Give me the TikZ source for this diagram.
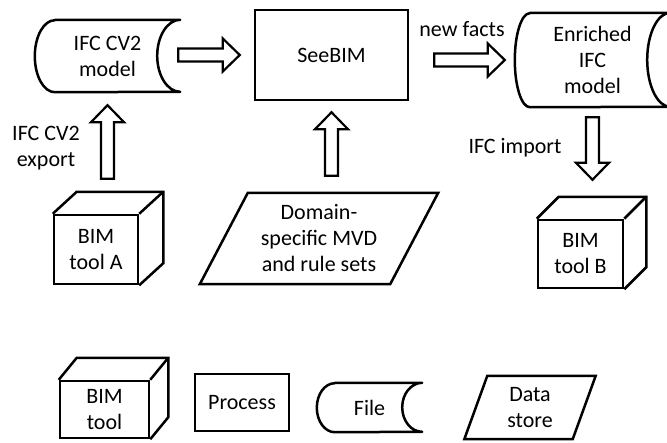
\documentclass[tikz,border=0pt]{standalone}
\usepackage{fontspec}
\setmainfont{Carlito}
\usetikzlibrary{calc}

\tikzset{
  outline/.style={line width=2.5pt, line join=round},
  txt/.style={font=\fontsize{22}{26}\selectfont, align=center, inner sep=0pt},
  box/.style={txt, draw, line width=2.5pt},
  fat/.style={line width=2.2pt, line join=miter, to path={
    let \p1=(\tikztostart), \p2=(\tikztotarget), \p3=($(\p2)!17pt!(\p1)$) in
    ($(\p1)!6.5pt!90:(\p2)$) -- ($(\p3)!6.5pt!90:(\p2)$) -- ($(\p3)!16.5pt!90:(\p2)$)
    -- (\p2)
    -- ($(\p3)!16.5pt!-90:(\p2)$) -- ($(\p3)!6.5pt!-90:(\p2)$) -- ($(\p1)!6.5pt!-90:(\p2)$) -- cycle}}
}

% file: node, bulge, dent, half height
\newcommand{\fileshape}[4]{
  \draw[outline] ($(#1.north west)+(#2,0)$) -- (#1.north east)
    arc[start angle=90, end angle=270, x radius=#3pt, y radius=#4pt]
    -- ($(#1.south west)+(#2,0)$)
    arc[start angle=270, end angle=90, x radius=#2pt, y radius=#4pt] -- cycle;}
% cube: node, dx, dy
\newcommand{\cubeshape}[3]{
  \draw[outline, line join=miter] (#1.north west) -- ++(#2,-#3) -- ($(#1.north east)+(#2,-#3)$)
    -- ($(#1.south east)+(#2,-#3)$) -- (#1.south east);
  \draw[outline] (#1.north east) -- ++(#2,-#3);}
% data store: node, half slant
\newcommand{\storeshape}[2]{
  \draw[outline, line join=miter] ($(#1.north west)+(#2,0)$) -- ($(#1.north east)+(#2,0)$)
    -- ($(#1.south east)+(-#2,0)$) -- ($(#1.south west)+(-#2,0)$) -- cycle;}

\begin{document}
\begin{tikzpicture}[x=1pt, y=-1pt]

	\useasboundingbox (0,0) rectangle (667,442);

	% main flow
	\node [txt, minimum width=145, minimum height=72] (cv2) at (107.5,56) {IFC CV2\\model};
	\node [box, minimum width=153, minimum height=90] (see) at (331.5,55) {SeeBIM};
	\node [txt, minimum width=155, minimum height=94] (enr) at (592.5,60) {Enriched\\IFC\\model};
	\node [box, minimum width=84, minimum height=69] (toolA) at (96,249.5) {BIM\\tool A};
	\node [box, minimum width=85, minimum height=68] (toolB) at (580.5,254) {BIM\\tool B};
	\node [txt, minimum width=190, minimum height=91] (mvd) at (319,238.5) {Domain-\\specific MVD\\and rule sets};

	\fileshape{cv2}{20}{23}{36}
	\fileshape{enr}{15}{23}{47}
	\cubeshape{toolA}{24}{22}
	\cubeshape{toolB}{22}{22}
	\storeshape{mvd}{24}

	\draw [fat] ($(cv2.east |- see.west)+(-2,0)$) to ($(see.west)+(-14,0)$);
	\draw [fat] ($(see.east |- enr.west)+(25,0)$) to ($(enr.west)+(-10,0)$);
	\draw [fat] ($(cv2.south |- toolA.north)+(0,-35)$) to ($(cv2.south)+(0,13)$);
	\draw [fat] ($(see.south |- mvd.north)+(0,-17)$) to ($(see.south)+(0,11)$);
	\draw [fat] ($(enr.south)+(0,10)$) to ($(enr.south |- toolB.north)+(0,-39)$);

	\node [txt] (lexp) at (46,148) {IFC CV2\\export};
	\node [txt] (lnew) at (462,29) {new facts};
	\node [txt] (limp) at (515,148) {IFC import};

	% legend
	\node [box, minimum width=89, minimum height=57] (lgtool) at (104.5,409.5) {BIM\\tool};
	\node [box, minimum width=94, minimum height=57] (lgproc) at (242,402.5) {Process};
	\node [txt, minimum width=105, minimum height=49] (lgfile) at (369.5,407.5) {File};
	\node [txt, minimum width=108, minimum height=63] (lgstore) at (530,407.5) {Data\\store};

	\cubeshape{lgtool}{18}{22}
	\fileshape{lgfile}{18}{20}{24.5}
	\storeshape{lgstore}{11.5}

\end{tikzpicture}
\end{document}
